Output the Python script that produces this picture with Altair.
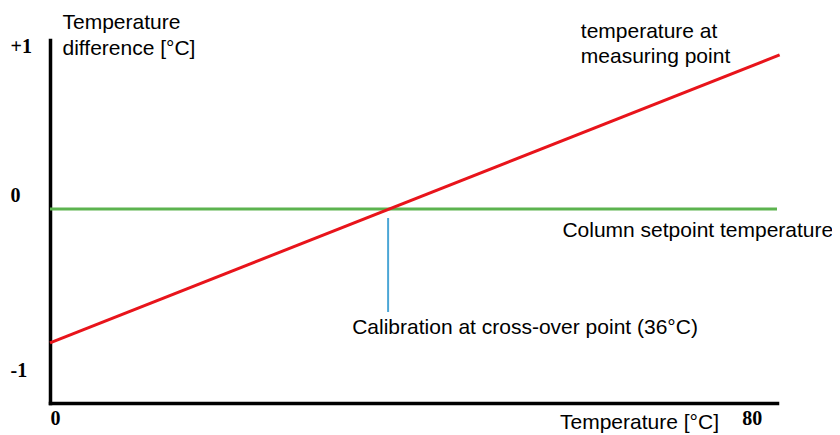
import altair as alt
import pandas as pd

# ---- data ----
red_x = [0, 83.3]
red_y = [-0.827, 0.951]
green_x = [0, 83]
green_y = [0, 0]
blue_x = [38.6, 38.6]
blue_y = [-0.056, -0.636]

y_ticks = [-1, 0, 1]
y_tick_labels = ["-1", "0", "+1"]
x_ticks = [0, 80]
x_tick_labels = ["0", "80"]

ann_text = ["temperature at", "measuring point", "Column setpoint temperature",
            "Calibration at cross-over point (36°C)"]
ann_x = [60.6, 60.6, 58.5, 34.5]
ann_y = [1.093, 0.938, -0.136, -0.735]

X_DOMAIN = [0, 83]
Y_DOMAIN = [-1.198, 1.043]

FONT = "Liberation Sans"
TICKFONT = "Liberation Serif"
FS = 21

def label_expr(vals, labels):
    parts = [f"datum.value == {v} ? '{l}'" for v, l in zip(vals, labels)]
    return " : ".join(parts) + " : ''"

xs = alt.Scale(domain=X_DOMAIN, nice=False, zero=False)
ys = alt.Scale(domain=Y_DOMAIN, nice=False, zero=False)

x_axis = alt.Axis(
    values=x_ticks, labelExpr=label_expr(x_ticks, x_tick_labels),
    ticks=False, grid=False, domainColor="black", domainWidth=3.5, domainCap="square",
    labelFont=TICKFONT, labelFontWeight="bold", labelFontSize=20, labelColor="black",
    labelPadding=5, labelBaseline="top",
    labelAlign={"condition": {"test": "datum.value == 0", "value": "left"}, "value": "center"},
    labelOffset={"condition": {"test": "datum.value == 80", "value": 1}, "value": 0},
    title="Temperature [°C]", titleFont=FONT, titleFontSize=FS, titleFontWeight="normal",
    titleColor="black", titleX=589, titleY=25, titleBaseline="alphabetic", titleAlign="center",
)
y_axis = alt.Axis(
    values=y_ticks, labelExpr=label_expr(y_ticks, y_tick_labels),
    ticks=False, grid=False, domainColor="black", domainWidth=3.5, domainCap="square",
    labelFont=TICKFONT, labelFontWeight="bold", labelFontSize=20, labelColor="black",
    labelAlign="left", labelPadding=40, labelBaseline="middle",
    labelOffset={"condition": {"test": "datum.value == 0", "value": -13}, "value": 0},
    title=["Temperature", "difference [°C]"], titleFont=FONT, titleFontSize=FS,
    titleFontWeight="normal", titleColor="black", titleAngle=0, titleAlign="left",
    titleBaseline="alphabetic", titleX=12, titleY=-12, titleLineHeight=26,
)

lines = pd.DataFrame({
    "x": red_x + green_x + blue_x,
    "y": red_y + green_y + blue_y,
    "s": ["red"] * len(red_x) + ["green"] * len(green_x) + ["blue"] * len(blue_x),
})

base = alt.Chart(lines)

axes_layer = base.mark_line(opacity=0).encode(
    x=alt.X("x:Q", scale=xs, axis=x_axis),
    y=alt.Y("y:Q", scale=ys, axis=y_axis),
    detail="s:N",
)

green = base.transform_filter("datum.s == 'green'").mark_line(
    color="#5cb34f", strokeWidth=3).encode(
    x=alt.X("x:Q", scale=xs), y=alt.Y("y:Q", scale=ys))
red = base.transform_filter("datum.s == 'red'").mark_line(
    color="#e8141b", strokeWidth=3).encode(
    x=alt.X("x:Q", scale=xs), y=alt.Y("y:Q", scale=ys))
blue = base.transform_filter("datum.s == 'blue'").mark_line(
    color="#4ba6d6", strokeWidth=2).encode(
    x=alt.X("x:Q", scale=xs), y=alt.Y("y:Q", scale=ys))

ann = pd.DataFrame({"t": ann_text, "x": ann_x, "y": ann_y})
texts = alt.Chart(ann).mark_text(
    font=FONT, fontSize=FS, align="left", baseline="middle", color="black").encode(
    x=alt.X("x:Q", scale=xs), y=alt.Y("y:Q", scale=ys), text="t:N")

chart = alt.layer(axes_layer, green, red, blue, texts).properties(
    width=727, height=363,
    background="white",
    autosize=alt.AutoSizeParams(type="none"),
    padding={"left": 42, "top": 32, "right": 55, "bottom": 30},
).configure_view(strokeWidth=0, stroke="transparent")

chart.save("out.html", embed_options={"renderer": "svg", "actions": False})
